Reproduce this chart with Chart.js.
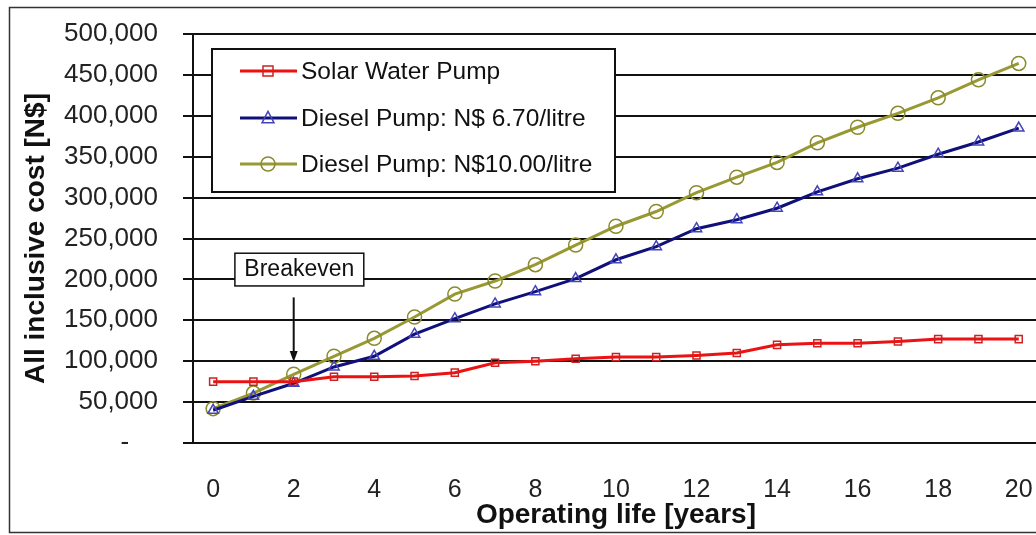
<!DOCTYPE html>
<html>
<head>
<meta charset="utf-8">
<script src="https://cdn.jsdelivr.net/npm/chart.js@4/dist/chart.umd.min.js"></script>
<style>
    html, body { margin: 0; padding: 0; background: #ffffff; overflow: hidden; width: 1036px; height: 535px; }
    #wrap { position: absolute; left: 0; top: 0; width: 1060px; height: 535px; }
</style>
</head>
<body>
<div id="wrap"><canvas id="chart" width="1060" height="535"></canvas></div>
<script>
// operating life, years
const years = ['0','1','2','3','4','5','6','7','8','9','10','11','12','13','14','15','16','17','18','19','20'];

// all inclusive cost in N$
const solarCost = [75000, 75000, 75000, 81000, 81000, 82000, 86000, 98000, 100000, 103000, 105000,
                   105000, 107000, 110000, 120000, 122000, 122000, 124000, 127000, 127000, 127000];
const diesel670 = [40000, 57000, 73000, 93000, 106000, 133000, 152000, 170000, 185000, 201000, 224000,
                   240000, 262000, 273000, 287000, 307000, 323000, 336000, 353000, 368000, 385000];
const diesel1000 = [42000, 61000, 84000, 106000, 128000, 154000, 182000, 198000, 218000, 242000, 265000,
                    283000, 306000, 325000, 343000, 367000, 386000, 403000, 422000, 444000, 464000];

const seriesNames = ['Solar Water Pump', 'Diesel Pump: N$ 6.70/litre', 'Diesel Pump: N$10.00/litre'];
const yTicks = [0, 50000, 100000, 150000, 200000, 250000, 300000, 350000, 400000, 450000, 500000];

// breakeven note, in data units
const breakevenYear = 2;
const breakevenBox = {x0: 0.54, x1: 3.74, y0: 192000, y1: 232000};
const breakevenArrow = {from: 178000, to: 99000};

const FONT = '"Liberation Sans", Arial, sans-serif';
Chart.defaults.font.family = FONT;
Chart.defaults.color = '#222';

function drawMarker(ctx, style, x, y, r, color) {
    ctx.save();
    ctx.strokeStyle = color;
    ctx.lineWidth = 1.5;
    ctx.beginPath();
    if (style === 'rect') {
        ctx.rect(x - r, y - r, r * 2, r * 2);
    } else if (style === 'triangle') {
        ctx.moveTo(x, y - r * 1.1);
        ctx.lineTo(x + r, y + r * 0.8);
        ctx.lineTo(x - r, y + r * 0.8);
        ctx.closePath();
    } else {
        ctx.arc(x, y, r, 0, Math.PI * 2);
    }
    ctx.stroke();
    ctx.restore();
}

const framePlugin = {
    id: 'frame',
    beforeDraw(chart) {
        const ctx = chart.ctx;
        ctx.save();
        ctx.fillStyle = '#fff';
        ctx.fillRect(0, 0, chart.width, chart.height);
        ctx.strokeStyle = '#333';
        ctx.lineWidth = 1.5;
        ctx.strokeRect(9.5, 7.5, 1100, 525);
        ctx.restore();
    }
};

const notePlugin = {
    id: 'notes',
    afterDraw(chart) {
        const ctx = chart.ctx;
        const xs = chart.scales.x, ys = chart.scales.y;

        // legend box
        ctx.save();
        ctx.fillStyle = '#fff';
        ctx.fillRect(212, 49, 403, 143);
        ctx.strokeStyle = '#111';
        ctx.lineWidth = 2;
        ctx.strokeRect(212, 49, 403, 143);
        const rows = [71, 118, 164];
        chart.data.datasets.forEach((ds, i) => {
            const y = rows[i];
            ctx.strokeStyle = ds.borderColor;
            ctx.lineWidth = 3;
            ctx.beginPath();
            ctx.moveTo(240, y);
            ctx.lineTo(297, y);
            ctx.stroke();
            drawMarker(ctx, ds.pointStyle, 268, y, ds.pointRadius, ds.pointBorderColor);
            ctx.fillStyle = '#111';
            ctx.font = '24.5px ' + FONT;
            ctx.textBaseline = 'middle';
            ctx.textAlign = 'left';
            ctx.fillText(ds.label, 301, y + 1);
        });

        // breakeven box and arrow
        const bx0 = xs.getPixelForValue(breakevenBox.x0);
        const bx1 = xs.getPixelForValue(breakevenBox.x1);
        const by0 = ys.getPixelForValue(breakevenBox.y1);
        const by1 = ys.getPixelForValue(breakevenBox.y0);
        ctx.fillStyle = '#fff';
        ctx.fillRect(bx0, by0, bx1 - bx0, by1 - by0);
        ctx.strokeStyle = '#111';
        ctx.lineWidth = 1.5;
        ctx.strokeRect(bx0, by0, bx1 - bx0, by1 - by0);
        ctx.fillStyle = '#111';
        ctx.font = '23px ' + FONT;
        ctx.textAlign = 'center';
        ctx.fillText('Breakeven', (bx0 + bx1) / 2, (by0 + by1) / 2);

        const ax = xs.getPixelForValue(breakevenYear);
        const ay0 = ys.getPixelForValue(breakevenArrow.from);
        const ay1 = ys.getPixelForValue(breakevenArrow.to);
        ctx.lineWidth = 2;
        ctx.beginPath();
        ctx.moveTo(ax, ay0);
        ctx.lineTo(ax, ay1 - 8);
        ctx.stroke();
        ctx.beginPath();
        ctx.moveTo(ax, ay1);
        ctx.lineTo(ax - 4, ay1 - 11);
        ctx.lineTo(ax + 4, ay1 - 11);
        ctx.closePath();
        ctx.fill();
        ctx.restore();
    }
};

const ctx = document.getElementById('chart').getContext('2d');
const chart = new Chart(ctx, {
    type: 'line',
    data: {
        labels: years,
        datasets: [
            {
                label: seriesNames[0],
                data: solarCost,
                borderColor: '#ee1111',
                borderWidth: 3,
                pointStyle: 'rect',
                pointRadius: 5,
                pointBorderColor: '#cc2222',
                pointBorderWidth: 1.5,
                pointBackgroundColor: 'rgba(0,0,0,0)',
                tension: 0
            },
            {
                label: seriesNames[1],
                data: diesel670,
                borderColor: '#10107a',
                borderWidth: 3,
                pointStyle: 'triangle',
                pointRadius: 6,
                pointBorderColor: '#4444bb',
                pointBorderWidth: 1.5,
                pointBackgroundColor: 'rgba(0,0,0,0)',
                tension: 0
            },
            {
                label: seriesNames[2],
                data: diesel1000,
                borderColor: '#999933',
                borderWidth: 3,
                pointStyle: 'circle',
                pointRadius: 7,
                pointBorderColor: '#8a8a2a',
                pointBorderWidth: 1.5,
                pointBackgroundColor: 'rgba(0,0,0,0)',
                tension: 0
            }
        ]
    },
    options: {
        responsive: false,
        devicePixelRatio: 1,
        animation: false,
        layout: { padding: { left: 0, right: 15, top: 34, bottom: 0 } },
        plugins: {
            legend: { display: false },
            tooltip: { enabled: false }
        },
        scales: {
            x: {
                offset: true,
                grid: { display: false },
                border: { display: false },
                ticks: {
                    autoSkip: false,
                    maxRotation: 0,
                    padding: 27,
                    font: { size: 25, lineHeight: 1 },
                    callback: (v, i) => (i % 2 === 0 ? years[i] : '')
                },
                title: {
                    display: true,
                    text: 'Operating life [years]',
                    color: '#111',
                    font: { size: 28, weight: 'bold', lineHeight: 1 },
                    padding: { top: 0, bottom: 6 }
                },
                afterFit(scale) { scale.height = 92; scale.paddingTop = 0; }
            },
            y: {
                min: 0,
                max: 500000,
                afterBuildTicks(scale) { scale.ticks = yTicks.map(v => ({value: v})); },
                grid: { color: '#111', lineWidth: 2, tickLength: 10 },
                border: { color: '#111', width: 2 },
                ticks: {
                    padding: 25,
                    font: { size: 26 },
                    callback: v => (v === 0 ? '-    ' : v.toLocaleString('en-US'))
                },
                title: {
                    display: true,
                    text: 'All inclusive cost [N$]',
                    color: '#111',
                    font: { size: 28, weight: 'bold', lineHeight: 1 },
                    padding: { top: 22, bottom: 0 }
                },
                afterFit(scale) {
                    scale.width = 193;
                    scale.paddingTop = 0;
                    scale.paddingBottom = 0;
                }
            }
        }
    },
    plugins: [framePlugin, notePlugin]
});
</script>
</body>
</html>
